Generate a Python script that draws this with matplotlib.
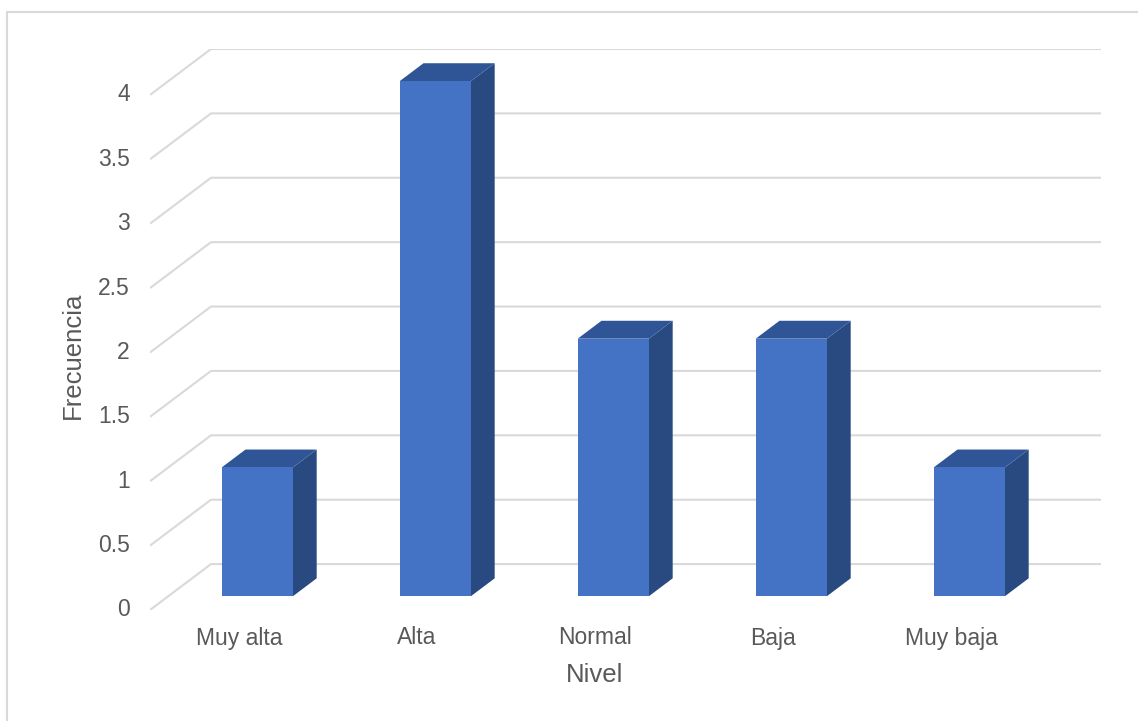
import matplotlib
matplotlib.use('Agg')
import matplotlib.pyplot as plt
from matplotlib.patches import Polygon, Rectangle

plt.rcParams['font.family'] = ['Liberation Sans', 'DejaVu Sans']

categories = ['Muy alta', 'Alta', 'Normal', 'Baja', 'Muy baja']
frecuencia = [1, 4, 2, 2, 1]
yticks = [0, 0.5, 1, 1.5, 2, 2.5, 3, 3.5, 4]
ytick_labels = ['0', '0.5', '1', '1.5', '2', '2.5', '3', '3.5', '4']

# oblique depth offset of the back wall, in data units
DX = 61 / 178
DY = 46 / 129
# bar sits between these fractions of the depth
D_FRONT, D_BACK = 0.30, 0.69
BAR_W = 0.4

front_c = '#4472C4'
top_c = '#2F5597'
side_c = '#294A80'
grid_c = '#D9D9D9'
text_c = '#595959'


def proj(x, y, d):
    return (x + d * DX, y + d * DY)


W, H = 1138, 721
fig = plt.figure(figsize=(W / 100, H / 100), dpi=100)
ax = fig.add_axes([150 / W, (H - 610) / H, (1101 - 150) / W, (610 - 49) / H])
ax.set_xlim(0, len(categories) + DX)
ax.set_ylim(0, max(yticks) + DY)
ax.axis('off')

# floor / wall gridlines
for v in yticks:
    pts = [proj(0, v, 0), proj(0, v, 1), proj(len(categories), v, 1)]
    ax.plot([p[0] for p in pts], [p[1] for p in pts], color=grid_c, lw=1.5,
            solid_capstyle='butt', zorder=1)
    ax.annotate(ytick_labels[yticks.index(v)], (0, v), xytext=(-20, 0),
                textcoords='offset pixels', ha='right', va='center',
                fontsize=16.5, color=text_c)

# 3d columns
for i, (cat, val) in enumerate(zip(categories, frecuencia)):
    x0 = i + 0.5 - BAR_W / 2
    x1 = i + 0.5 + BAR_W / 2
    front = [proj(x0, 0, D_FRONT), proj(x1, 0, D_FRONT),
             proj(x1, val, D_FRONT), proj(x0, val, D_FRONT)]
    side = [proj(x1, 0, D_FRONT), proj(x1, 0, D_BACK),
            proj(x1, val, D_BACK), proj(x1, val, D_FRONT)]
    top = [proj(x0, val, D_FRONT), proj(x1, val, D_FRONT),
           proj(x1, val, D_BACK), proj(x0, val, D_BACK)]
    ax.add_patch(Polygon(side, closed=True, fc=side_c, ec='none', zorder=3))
    ax.add_patch(Polygon(top, closed=True, fc=top_c, ec='none', zorder=3))
    ax.add_patch(Polygon(front, closed=True, fc=front_c, ec='none', zorder=4))
    ax.annotate(cat, (i + 0.5, 0), xytext=(0, -28), textcoords='offset pixels',
                ha='center', va='center', fontsize=16.5, color=text_c,
                annotation_clip=False)

ax.annotate('Nivel', (len(categories) / 2, 0), xytext=(0, -65),
            textcoords='offset pixels', ha='center', va='center',
            fontsize=18.5, color=text_c, annotation_clip=False)
fig.text(73 / W, 1 - 355 / H, 'Frecuencia', rotation=90, ha='center',
         va='center', fontsize=18.5, color=text_c)

# chart area border
fig.add_artist(Rectangle((7 / W, -0.1), 2, (H - 12) / H + 0.1,
                         transform=fig.transFigure, fill=False,
                         ec=grid_c, lw=1.5))

fig.savefig('out.png', dpi=100, facecolor='white')
